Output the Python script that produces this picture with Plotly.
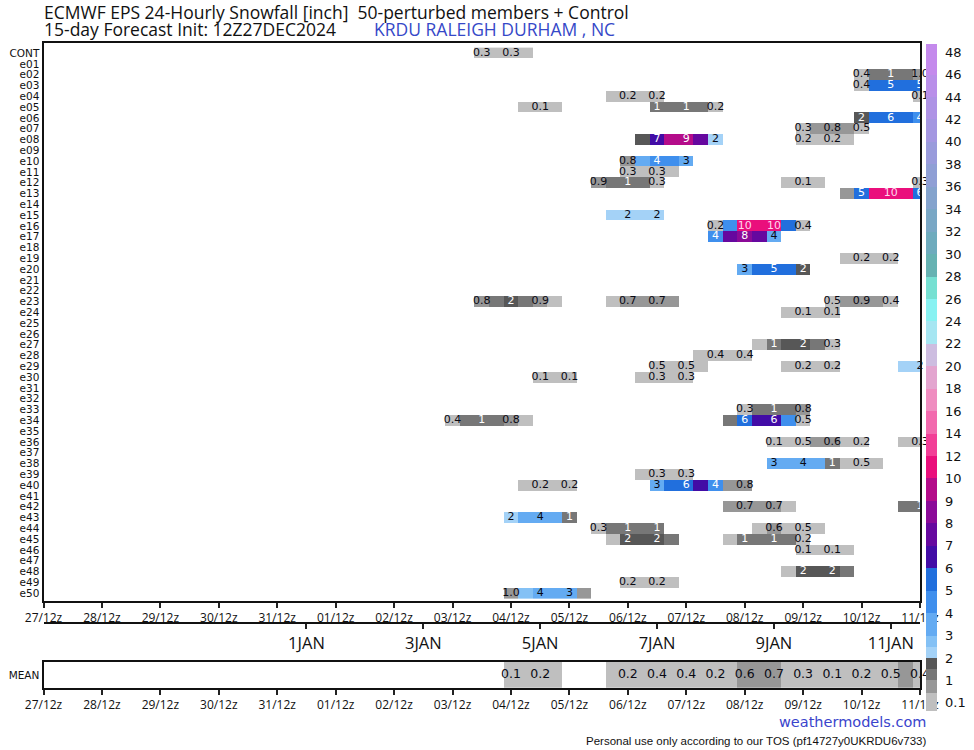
import numpy as np
import plotly.graph_objects as go
from datetime import datetime, timedelta

# ---------------- data ----------------
init_time = datetime(2024, 12, 27, 12)
step_hours = 6
n_steps = 61
times = [init_time + timedelta(hours=step_hours * k) for k in range(n_steps)]

members = ["CONT"] + [f"e{i:02d}" for i in range(1, 51)]

# 24-hourly snowfall (inch) per 6-hourly step: (first step index, values)
member_runs = [
    [(30, [0.3, 0.3, 0.3, 0.3])],                                   # CONT
    [],                                                             # e01
    [(56, [0.4, 1.2, 1.1, 1.2, 0.97])],                             # e02
    [(56, [0.4, 5.2, 5.4, 5.3, 5.1])],                              # e03
    [(39, [0.2, 0.2, 0.2, 0.2]), (60, [0.1])],                      # e04
    [(33, [0.1, 0.1, 0.1]), (42, [1.2, 1.3, 1.2, 1.1, 0.2])],       # e05
    [(56, [1.8, 5.6, 5.9, 5.7, 4.2])],                              # e06
    [(52, [0.3, 0.6, 0.8, 0.7, 0.5])],                              # e07
    [(41, [1.8, 6.8, 9.6, 9.2, 7.5, 2.2]), (52, [0.2, 0.2, 0.2, 0.1])],  # e08
    [],                                                             # e09
    [(40, [0.8, 3.8, 4.2, 4.0, 3.2])],                              # e10
    [(40, [0.3, 0.3, 0.3, 0.2])],                                   # e11
    [(38, [0.9, 1.2, 1.1, 1.0, 0.3]), (51, [0.1, 0.1, 0.1]), (60, [0.3])],  # e12
    [(55, [0.9, 5.2, 10.5, 10.3, 10.1, 5.8])],                      # e13
    [],                                                             # e14
    [(39, [2.2, 2.3, 2.2, 2.1])],                                   # e15
    [(46, [0.2, 4.5, 10.2, 11.0, 10.1, 5.5, 0.4])],                 # e16
    [(46, [4.2, 7.5, 8.2, 7.8, 3.9])],                              # e17
    [],                                                             # e18
    [(55, [0.1, 0.2, 0.2, 0.2])],                                   # e19
    [(48, [3.2, 5.1, 5.2, 5.0, 1.6])],                              # e20
    [],                                                             # e21
    [],                                                             # e22
    [(30, [0.8, 1.3, 1.7, 1.4, 0.9, 0.4]), (39, [0.4, 0.7, 0.7, 0.7, 0.6]),
     (54, [0.5, 0.7, 0.9, 0.8, 0.4])],                              # e23
    [(51, [0.1, 0.1, 0.1, 0.1])],                                   # e24
    [],                                                             # e25
    [],                                                             # e26
    [(49, [0.3, 1.2, 1.6, 1.8, 1.3, 0.3])],                         # e27
    [(45, [0.3, 0.4, 0.4, 0.4])],                                   # e28
    [(42, [0.47, 0.4, 0.48, 0.4]), (51, [0.1, 0.2, 0.2, 0.2]), (59, [2.2, 2.1])],  # e29
    [(34, [0.1, 0.1, 0.1]), (41, [0.2, 0.3, 0.3, 0.3])],            # e30
    [],                                                             # e31
    [],                                                             # e32
    [(48, [0.3, 1.2, 1.3, 1.1, 0.8])],                              # e33
    [(28, [0.4, 1.1, 1.2, 1.1, 0.8, 0.4]), (47, [1.4, 5.8, 6.8, 6.3, 4.5, 0.5])],  # e34
    [],                                                             # e35
    [(50, [0.1, 0.3, 0.5, 0.6, 0.6, 0.4, 0.2]), (59, [0.2, 0.3])],  # e36
    [],                                                             # e37
    [(50, [3.0, 3.8, 3.9, 3.6, 1.2, 0.4, 0.48, 0.3])],              # e38
    [(41, [0.2, 0.3, 0.3, 0.3])],                                   # e39
    [(33, [0.1, 0.2, 0.2, 0.2]), (42, [3.0, 5.5, 5.8, 6.8, 4.0, 0.9, 0.8])],  # e40
    [],                                                             # e41
    [(47, [0.6, 0.7, 0.7, 0.7, 0.4]), (59, [1.2, 1.1])],            # e42
    [(32, [2.2, 3.8, 3.9, 3.8, 1.2])],                              # e43
    [(38, [0.3, 1.1, 1.2, 1.1, 1.0]), (49, [0.4, 0.6, 0.5, 0.5, 0.4])],  # e44
    [(39, [0.4, 1.6, 1.7, 1.6, 1.2]), (47, [0.4, 1.1, 1.2, 1.1, 1.0, 0.2])],  # e45
    [(52, [0.1, 0.1, 0.1, 0.1])],                                   # e46
    [],                                                             # e47
    [(51, [0.4, 1.6, 1.8, 1.6, 1.2])],                              # e48
    [(40, [0.2, 0.2, 0.2, 0.1])],                                   # e49
    [(32, [0.97, 2.8, 3.9, 3.8, 3.0, 0.9])],                        # e50
]

mean_runs = [
    (32, [0.1, 0.1, 0.2, 0.1]),
    (39, [0.1, 0.2, 0.3, 0.4, 0.4, 0.4, 0.3, 0.2, 0.4, 0.6, 0.7, 0.7, 0.5,
          0.3, 0.2, 0.1, 0.2, 0.2, 0.3, 0.46, 0.55, 0.4]),
]

# colour bar labels (inch)
bar_levels = [0.1, 1, 2, 3, 4, 5, 6, 7, 8, 9, 10, 12, 14, 16, 18, 20, 22, 24,
              26, 28, 30, 32, 34, 36, 38, 40, 42, 44, 46, 48]
bar_labels = ["0.1", "1", "2", "3", "4", "5", "6", "7", "8", "9", "10", "12",
              "14", "16", "18", "20", "22", "24", "26", "28", "30", "32", "34",
              "36", "38", "40", "42", "44", "46", "48"]

# colour bins: lower threshold and colour
bin_thresholds = [0.1, 0.5, 1.0, 1.5, 2.0, 2.5, 3.0, 4.0, 5.0, 6.0, 7.0, 8.0, 9.0,
                  10, 12, 14, 16, 18, 20, 22, 24, 26, 28, 30, 32, 34, 36, 38,
                  40, 42, 44, 46]
bin_colors = ["#bfbfbf", "#979797", "#777777", "#575757", "#a4d2f7", "#84c1f5",
              "#64abf2", "#3f8fed", "#216fdd", "#420ca6", "#66089f", "#8b0a98",
              "#b40c8a", "#ea0f7c", "#f23f97", "#f26aae", "#ef8dc0", "#e3a5cf",
              "#cdbde0", "#a6e6f2", "#88f2f2", "#76e0d2", "#66b2b2", "#6eabbd",
              "#79a7c5", "#84a3cd", "#8f9fd5", "#999bdb", "#a497e1", "#ae93e5",
              "#b98fe9", "#c48aec"]

day_tick_labels_fmt = "%d/%Hz"
jan_ticks = [datetime(2025, 1, d) for d in (1, 3, 5, 7, 9, 11)]
jan_labels = ["1JAN", "3JAN", "5JAN", "7JAN", "9JAN", "11JAN"]

# ---------------- helpers ----------------
pos_idx = np.arange(len(bar_levels), dtype=float)


def to_pos(v):
    return float(np.interp(v, bar_levels, pos_idx))


def fmt(v):
    return f"{v:.1f}" if v < 1 else str(int(np.floor(v + 0.5)))


def text_color(v):
    i = max(0, int(np.searchsorted(bin_thresholds, v, side="right")) - 1)
    h = bin_colors[i].lstrip("#")
    r, g, b = (int(h[j:j + 2], 16) for j in (0, 2, 4))
    lum = (0.299 * r + 0.587 * g + 0.114 * b) / 255
    if lum >= 0.55:
        return "#0a0a14"
    if i >= 13:
        return "#ffd6ec"
    return "white"


def build(runs_list):
    z = [[None] * n_steps for _ in runs_list]
    tx, ty, tt, tc = [], [], [], []
    for r, runs in enumerate(runs_list):
        for start, vals in runs:
            for j, v in enumerate(vals):
                k = start + j
                z[r][k] = to_pos(v)
                if k % 2 == 0:
                    tx.append(times[k])
                    ty.append(r)
                    tt.append(fmt(v))
                    tc.append(text_color(v))
    return z, (tx, ty, tt, tc)


z_main, lab_main = build(member_runs)
z_mean, lab_mean = build([mean_runs])

zmin, zmax = -0.36, len(bar_levels) - 1 + 0.36


def norm(p):
    return (p - zmin) / (zmax - zmin)


colorscale = []
for i, c in enumerate(bin_colors):
    lo = 0.0 if i == 0 else norm(to_pos(bin_thresholds[i]))
    hi = 1.0 if i == len(bin_colors) - 1 else norm(to_pos(bin_thresholds[i + 1]))
    colorscale.append([lo, c])
    colorscale.append([hi, c])

# ---------------- layout geometry (pixels) ----------------
W, H = 974, 750
x_dom = [43.5 / W, 920 / W]
y_main = [1 - 600.7 / H, 1 - 43.3 / H]
y_mean = [1 - 687.7 / H, 1 - 662 / H]
date_axis_pos = 1 - 623.3 / H

fig = go.Figure()
fig.add_trace(go.Heatmap(
    x=times, y=list(range(len(members))), z=z_main,
    zmin=zmin, zmax=zmax, colorscale=colorscale, hoverongaps=False,
    xaxis="x", yaxis="y",
    colorbar=dict(
        x=925.5 / W, xanchor="left", y=1 - 44 / H, yanchor="top",
        len=667 / H, lenmode="fraction", thickness=11, thicknessmode="pixels",
        outlinewidth=0, tickvals=list(pos_idx), ticktext=bar_labels,
        ticks="outside", ticklen=6, tickcolor="rgba(0,0,0,0)",
        tickfont=dict(family="DejaVu Sans", size=13, color="#111"),
        xpad=0, ypad=0,
    ),
))
fig.add_trace(go.Scatter(
    x=lab_main[0], y=lab_main[1], text=lab_main[2], mode="text",
    textposition="middle center", cliponaxis=False, hoverinfo="skip",
    textfont=dict(family="DejaVu Sans", size=11, color=lab_main[3]),
    xaxis="x", yaxis="y", showlegend=False,
))
fig.add_trace(go.Heatmap(
    x=times, y=[0], z=z_mean,
    zmin=zmin, zmax=zmax, colorscale=colorscale, showscale=False,
    hoverongaps=False, xaxis="x2", yaxis="y2",
))
fig.add_trace(go.Scatter(
    x=lab_mean[0], y=lab_mean[1], text=lab_mean[2], mode="text",
    textposition="middle center", cliponaxis=False, hoverinfo="skip",
    textfont=dict(family="DejaVu Sans", size=12.5, color=lab_mean[3]),
    xaxis="x2", yaxis="y2", showlegend=False,
))
fig.add_trace(go.Scatter(x=[times[0]], y=[None], xaxis="x3", yaxis="y",
                         mode="markers", showlegend=False, hoverinfo="skip"))

xr = [times[0], times[-1]]
tick_font = dict(family="Open Sans", size=12, color="#111")
common_x = dict(
    type="date", range=xr, domain=x_dom, tickmode="linear", tick0=times[0],
    dtick=86400000, tickformat=day_tick_labels_fmt, ticks="outside", ticklen=5,
    tickwidth=1.5, tickcolor="#222", showline=True, linecolor="#111",
    linewidth=2, mirror=True, showgrid=False, zeroline=False, tickfont=tick_font,
    automargin=False,
)

fig.update_layout(
    width=W, height=H, margin=dict(l=0, r=0, t=0, b=0, pad=0, autoexpand=False),
    paper_bgcolor="white", plot_bgcolor="white", showlegend=False,
    xaxis=dict(common_x, anchor="y"),
    yaxis=dict(domain=y_main, range=[50.71, -0.9], tickmode="array",
               tickvals=list(range(len(members))), ticktext=members, ticks="",
               showline=True, linecolor="#111", linewidth=2, mirror=True,
               showgrid=False, zeroline=False, automargin=False,
               tickfont=dict(family="DejaVu Sans", size=10.5, color="#111")),
    xaxis2=dict(common_x, anchor="y2"),
    yaxis2=dict(domain=y_mean, range=[0.5, -0.5], tickmode="array",
                tickvals=[0], ticktext=["MEAN"], ticks="", showline=True,
                linecolor="#111", linewidth=2, mirror=True, showgrid=False,
                zeroline=False, automargin=False,
                tickfont=dict(family="DejaVu Sans", size=10.5, color="#111")),
    xaxis3=dict(type="date", range=xr, overlaying="x", anchor="free",
                position=date_axis_pos, side="bottom", tickmode="array",
                tickvals=jan_ticks, ticktext=jan_labels, ticks="outside",
                ticklen=5, tickwidth=1.5, tickcolor="#222", showline=True,
                linecolor="#111", linewidth=2, showgrid=False, zeroline=False,
                automargin=False,
                tickfont=dict(family="Open Sans", size=16.5, color="#111")),
)

fig.add_annotation(x=42 / W, y=1 - 12 / H, xref="paper", yref="paper",
                   xanchor="left", yanchor="middle", showarrow=False,
                   text="ECMWF EPS 24-Hourly Snowfall [inch]  50-perturbed members + Control",
                   font=dict(family="Open Sans", size=17.5, color="#111"))
fig.add_annotation(x=42 / W, y=1 - 29 / H, xref="paper", yref="paper",
                   xanchor="left", yanchor="middle", showarrow=False,
                   text="15-day Forecast Init: 12Z27DEC2024",
                   font=dict(family="Open Sans", size=17.5, color="#111"))
fig.add_annotation(x=372 / W, y=1 - 29 / H, xref="paper", yref="paper",
                   xanchor="left", yanchor="middle", showarrow=False,
                   text="KRDU RALEIGH DURHAM , NC",
                   font=dict(family="Open Sans", size=17.5, color="#3548c8"))
fig.add_annotation(x=928 / W, y=1 - 722 / H, xref="paper", yref="paper",
                   xanchor="right", yanchor="middle", showarrow=False,
                   text="weathermodels.com",
                   font=dict(family="DejaVu Sans", size=14.5, color="#3a44cc"))
fig.add_annotation(x=928 / W, y=1 - 741 / H, xref="paper", yref="paper",
                   xanchor="right", yanchor="middle", showarrow=False,
                   text="Personal use only according to our TOS (pf14727y0UKRDU6v733)",
                   font=dict(family="Liberation Sans", size=11.5, color="#111"))

fig.write_html("out.html", config={"displayModeBar": False},
               post_script="document.body.style.margin='0';"
                           "document.body.style.overflow='hidden';")
